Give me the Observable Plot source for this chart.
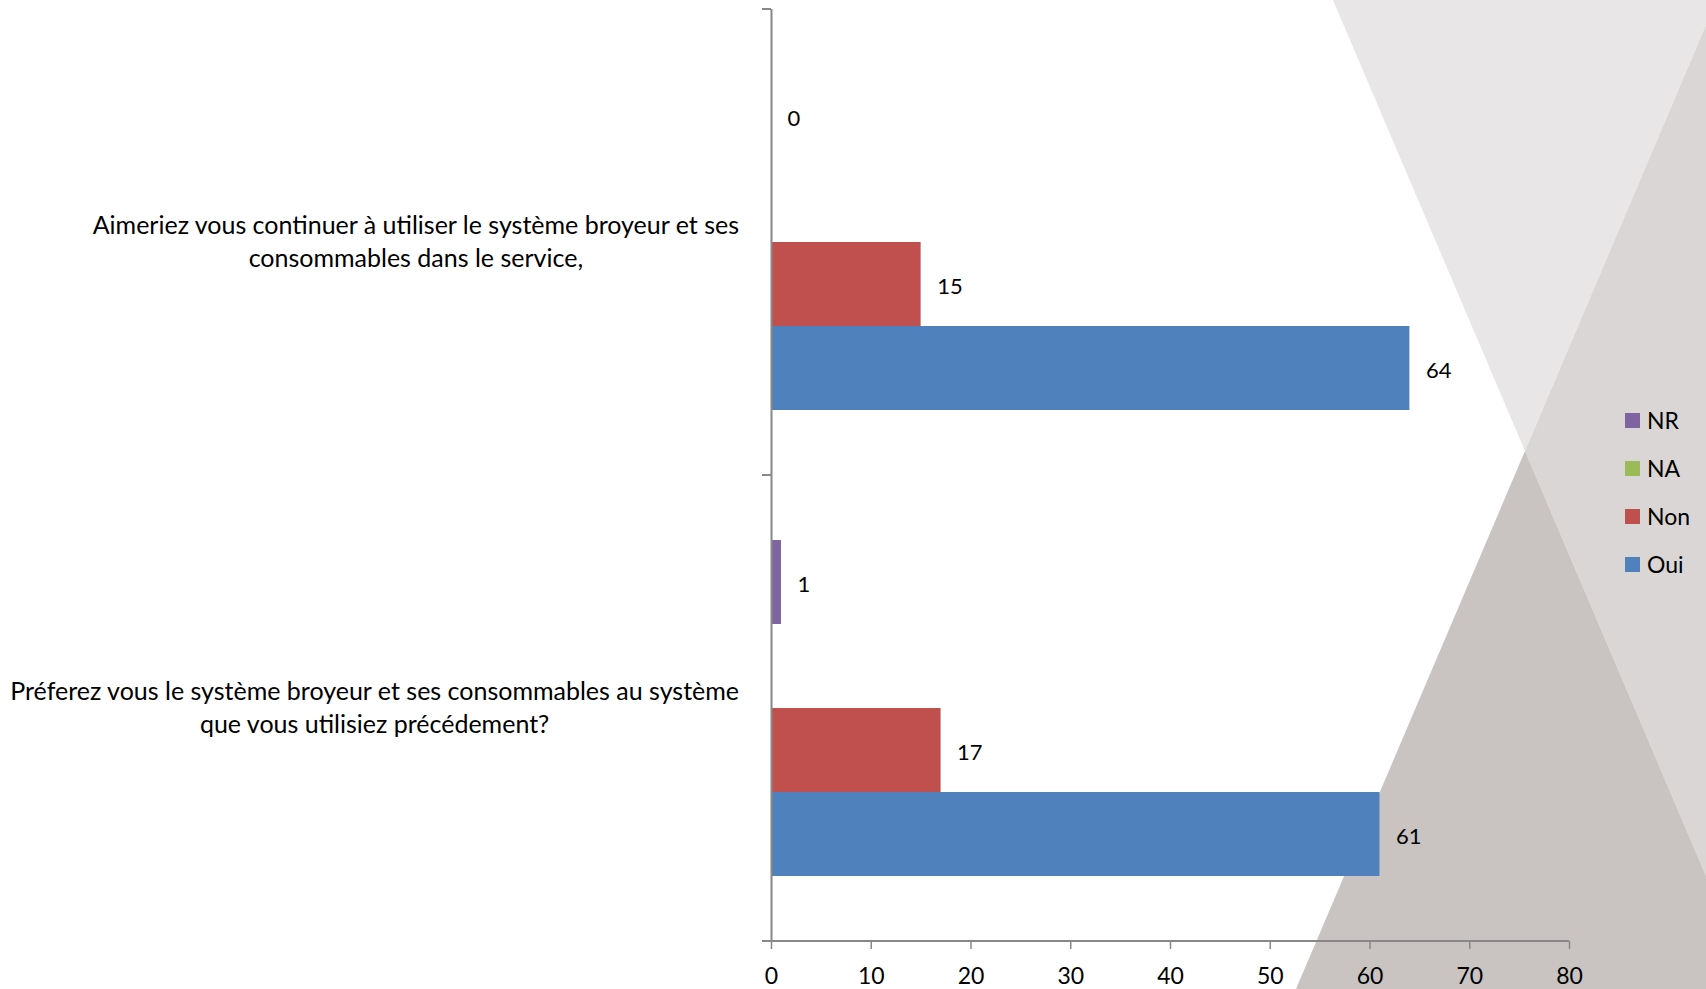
<!DOCTYPE html>
<html>
<head>
<meta charset="utf-8">
<script src="https://cdn.jsdelivr.net/npm/d3@7"></script>
<script src="https://cdn.jsdelivr.net/npm/@observablehq/plot@0.6"></script>
<style>
  body { margin: 0; background: #fff; }
  #wrap { position: relative; width: 1706px; height: 989px; overflow: hidden; font-family: Lato, "Open Sans", sans-serif; }
  #bg, #chart { position: absolute; left: 0; top: 0; }
  #legend { position: absolute; left: 1625px; top: 396px; font-size: 23px; color: #000; }
  .lg-row { display: flex; align-items: center; height: 48px; }
  .lg-sw { width: 15px; height: 15px; margin-right: 7px; }
</style>
</head>
<body>
<div id="wrap">
  <svg id="bg" width="1706" height="989">
    <polygon points="1333,0 1706,0 1706,25 1525,451" fill="#E8E6E6"/>
    <polygon points="1706,25 1525,451 1706,876" fill="#DAD6D5"/>
    <polygon points="1525,451 1706,876 1706,989 1296,989" fill="#C9C4C2"/>
  </svg>
  <div id="chart"></div>
  <div id="legend"></div>
</div>
<script>
const questions = [
  "Aimeriez vous continuer à utiliser le système broyeur et ses\nconsommables dans le service,",
  "Préferez vous le système broyeur et ses consommables au système\nque vous utilisiez précédement?"
];
const series = ["NR", "NA", "Non", "Oui"];
const seriesColors = ["#8064A2", "#9BBB59", "#C0504D", "#4F81BD"];
const valuesNR = [0, 1];
const valuesNA = [null, null];
const valuesNon = [15, 17];
const valuesOui = [64, 61];
const xTicks = [0, 10, 20, 30, 40, 50, 60, 70, 80];

const valuesBySeries = { NR: valuesNR, NA: valuesNA, Non: valuesNon, Oui: valuesOui };
const rows = [];
questions.forEach((q, i) => {
  series.forEach(s => {
    const v = valuesBySeries[s][i];
    if (v !== null && v !== undefined) rows.push({ question: q, series: s, value: v });
  });
});

const plot = Plot.plot({
  width: 1706,
  height: 989,
  marginLeft: 771,
  marginRight: 137,
  marginTop: 9,
  marginBottom: 48,
  style: { background: "transparent", fontFamily: "Lato, 'Open Sans', sans-serif", fontSize: "22px", color: "#000", overflow: "visible" },
  x: { domain: [0, 80], axis: null },
  y: { domain: series, paddingInner: 0, paddingOuter: 0.757, axis: null },
  fy: { domain: questions, padding: 0, axis: null },
  color: { domain: series, range: seriesColors },
  marks: [
    Plot.barX(rows, { fy: "question", y: "series", x: "value", fill: "series" }),
    Plot.text(rows, { fy: "question", y: "series", x: "value", text: d => String(d.value), textAnchor: "start", dx: 16, dy: 2, fontSize: 22, fill: "#000" }),
    Plot.ruleX([0], { stroke: "#888", strokeWidth: 2 }),
    Plot.axisX({ ticks: xTicks, tickSize: 8, tickPadding: 18, stroke: "#888", strokeWidth: 1.5, fontSize: 23, fill: "#000", label: null }),
    Plot.text(questions, { fy: d => d, frameAnchor: "left", text: d => d, textAnchor: "middle", lineHeight: 1.32, dy: -3, fontSize: 25, fill: "#000" })
  ]
});
document.getElementById("chart").appendChild(plot);

// axis line and band-edge ticks using Plot's scales
const xs = plot.scale("x"), fys = plot.scale("fy");
const x0 = xs.apply(0), x1 = xs.apply(80);
const edges = questions.map(q => fys.apply(q));
edges.push(fys.apply(questions[questions.length - 1]) + fys.bandwidth);
const g = d3.select(plot).append("g").attr("stroke", "#888").attr("stroke-width", 2);
const yBottom = edges[edges.length - 1];
g.append("line").attr("x1", x0 - 9).attr("x2", x1).attr("y1", yBottom).attr("y2", yBottom);
edges.forEach(e => g.append("line").attr("x1", x0 - 9).attr("x2", x0).attr("y1", e).attr("y2", e));

// right-align the centered question blocks against the axis
function alignLabels() {
  const svgRect = plot.getBoundingClientRect();
  const target = x0 - 32;
  const flat = questions.map(q => q.replace("\n", ""));
  d3.select(plot).selectAll("text").each(function() {
    if (!flat.includes(this.textContent)) return;
    const orig = this.__origTransform !== undefined ? this.__origTransform : (this.getAttribute("transform") || "");
    this.__origTransform = orig;
    this.setAttribute("transform", orig);
    const r = this.getBoundingClientRect();
    const shift = target - (r.right - svgRect.left);
    this.setAttribute("transform", `translate(${shift},0) ${orig}`);
  });
}
alignLabels();
if (document.fonts && document.fonts.ready) document.fonts.ready.then(alignLabels);

// legend
const legend = document.getElementById("legend");
series.forEach((s, i) => {
  const row = document.createElement("div");
  row.className = "lg-row";
  const sw = document.createElement("div");
  sw.className = "lg-sw";
  sw.style.background = seriesColors[i];
  const label = document.createElement("span");
  label.textContent = s;
  row.appendChild(sw);
  row.appendChild(label);
  legend.appendChild(row);
});
</script>
</body>
</html>
